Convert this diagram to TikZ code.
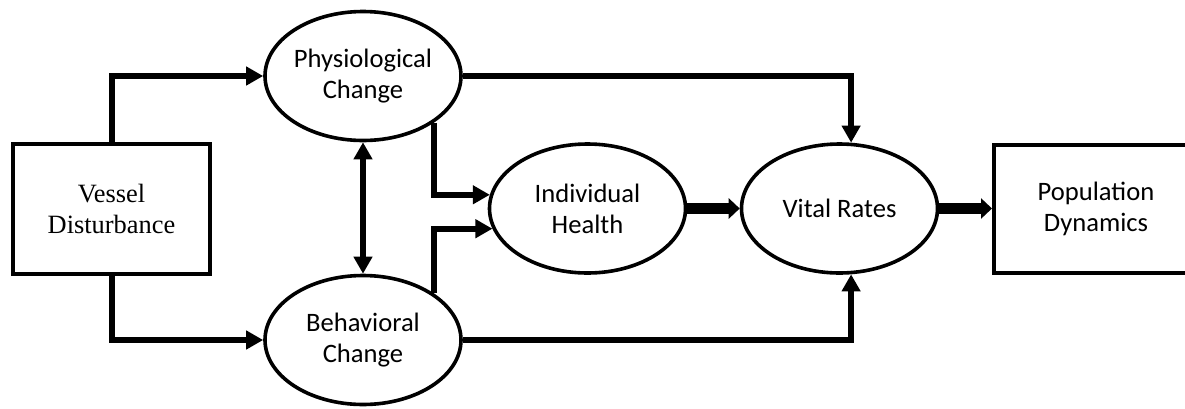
\documentclass[tikz,border=0pt]{standalone}
\usepackage{fontspec}
\usepackage{tikz}
\usetikzlibrary{arrows.meta,shapes.geometric}
\newfontfamily\calfont{Carlito}
\newfontfamily\timesfont{Liberation Serif}
\tikzset{
  flowarrow/.style={-{Triangle[length=8.5pt,width=9pt]}, line width=3pt, draw=black},
  twoway/.style={{Triangle[length=8.5pt,width=9pt]}-{Triangle[length=8.5pt,width=9pt]}, line width=3pt, draw=black},
  bigarrow/.style={-{Triangle[length=5.5pt,width=10pt]}, line width=5.2pt, draw=black},
  boxnode/.style={draw=black, rectangle, line width=2pt, align=center, inner sep=0pt,
    font=\calfont\fontsize{13.3}{15.5}\selectfont},
  stage/.style={draw=black, ellipse, line width=1.8pt, align=center, inner sep=0pt,
    minimum width=98pt, minimum height=64.5pt, font=\calfont\fontsize{13.3}{15.5}\selectfont}
}

\begin{document}
\begin{tikzpicture}[x=0.5pt, y=-0.5pt]
  \path[use as bounding box, clip] (0,0) rectangle (1185,408);

  \node[boxnode, minimum width=98.5pt, minimum height=65pt,
    font=\timesfont\fontsize{13.2}{15.5}\selectfont] (vd) at (111.5,209) {Vessel\\Disturbance};
  \node[stage] (phys) at (363,76) {Physiological\\Change};
  \node[stage] (behav) at (363,340) {Behavioral\\Change};
  \node[stage] (indiv) at (587.5,208.5) {Individual\\Health};
  \node[stage] (vital) at (839.5,208.5) {Vital Rates};
  \node[boxnode, minimum width=102pt, minimum height=64pt] (pop) at (1096,208.5) {Population\\Dynamics};

  \draw[flowarrow] (vd.north) |- (phys.west);
  \draw[flowarrow] (vd.south) |- (behav.west);
  \draw[twoway] (phys.south) -- (behav.north);
  \draw[flowarrow] (phys.south east) |- (indiv.172);
  \draw[flowarrow] (behav.north east) |- (indiv.192);
  \draw[flowarrow] (phys.east) -| (vital.80);
  \draw[flowarrow] (behav.east) -| (vital.-80);
  \foreach \a/\b in {indiv/vital,vital/pop}
    \draw[bigarrow] (\a.east) -- (\b.west);
\end{tikzpicture}
\end{document}
